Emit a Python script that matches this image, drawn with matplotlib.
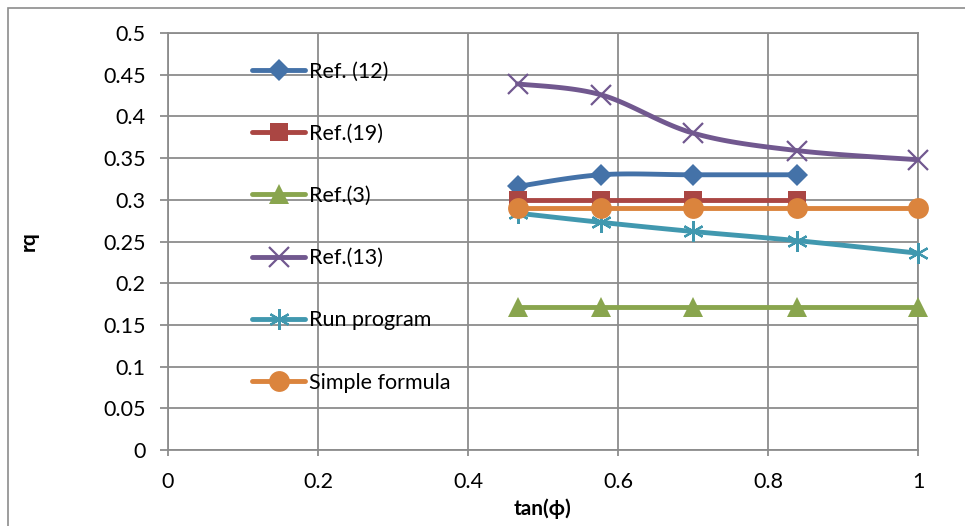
import numpy as np
import matplotlib.pyplot as plt
from matplotlib.lines import Line2D

plt.rcParams['font.family'] = ['Lato', 'DejaVu Sans']

# tan(phi) fuer phi = 25, 30, 35, 40, 45 Grad
x = [0.466, 0.577, 0.700, 0.839, 1.0]

ref12 = [0.316, 0.330, 0.330, 0.330]
ref19 = [0.300, 0.300, 0.300, 0.300]
ref3 = [0.171, 0.171, 0.171, 0.171, 0.171]
ref13 = [0.439, 0.426, 0.380, 0.359, 0.348]
run_prog = [0.284, 0.273, 0.262, 0.251, 0.236]
simple = [0.290, 0.290, 0.290, 0.290, 0.290]

labels = ["Ref. (12)", "Ref.(19)", "Ref.(3)", "Ref.(13)", "Run program", "Simple formula"]
colors = ["#4472A8", "#AA4643", "#89A54E", "#71588F", "#4198AF", "#DB843D"]
markers = ["D", "s", "^", "x", (6, 2, 0), "o"]
msizes = [11, 13, 15, 15, 15, 15]


def smooth(xs, ys, n=30):
    # Catmull-Rom wie Excel "geglaettete Linie"
    xs = np.asarray(xs, float)
    ys = np.asarray(ys, float)
    if len(xs) < 3:
        return xs, ys
    px = np.concatenate([[xs[0]], xs, [xs[-1]]])
    py = np.concatenate([[ys[0]], ys, [ys[-1]]])
    ox, oy = [], []
    t = np.linspace(0, 1, n)
    for i in range(1, len(px) - 2):
        p0, p1, p2, p3 = [np.array([px[j], py[j]]) for j in range(i - 1, i + 3)]
        c1 = p1 + (p2 - p0) / 6
        c2 = p2 - (p3 - p1) / 6
        b = ((1 - t) ** 3)[:, None] * p1 + (3 * (1 - t) ** 2 * t)[:, None] * c1 \
            + (3 * (1 - t) * t ** 2)[:, None] * c2 + (t ** 3)[:, None] * p2
        ox.extend(b[:, 0])
        oy.extend(b[:, 1])
    return np.array(ox), np.array(oy)


fig = plt.figure(figsize=(9.65, 5.26), dpi=100)
ax = fig.add_axes([168 / 965, 1 - 450 / 526, 750 / 965, 417 / 526])

# Rahmen um das Diagramm
fig.patches.append(plt.Rectangle((8 / 965, -0.1), 1.2, (526 - 8) / 526 + 0.1,
                                 transform=fig.transFigure, fill=False,
                                 edgecolor="#8c8c8c", linewidth=1.2))

series = [ref12, ref19, ref3, ref13, run_prog, simple]
handles = []
for i, ys in enumerate(series):
    xs = x[:len(ys)]
    sx, sy = smooth(xs, ys)
    ax.plot(sx, sy, color=colors[i], lw=3.5, solid_capstyle="round", zorder=3 + i, clip_on=False)
    mew = 1.6 if i in (3, 4) else 0
    ax.plot(xs, ys, linestyle="none", marker=markers[i], ms=msizes[i],
            color=colors[i], mew=mew, zorder=3 + i, clip_on=False)
    handles.append(Line2D([], [], color=colors[i], lw=3.5, marker=markers[i],
                          ms=msizes[i], mew=mew, solid_capstyle="round"))

ax.set_xlim(0, 1)
ax.set_ylim(0, 0.5)
ax.set_xticks(np.arange(0, 1.01, 0.2))
ax.set_xticklabels(["0", "0.2", "0.4", "0.6", "0.8", "1"])
ax.set_yticks(np.arange(0, 0.501, 0.05))
ax.set_yticklabels(["0", "0.05", "0.1", "0.15", "0.2", "0.25", "0.3", "0.35", "0.4", "0.45", "0.5"])
ax.grid(True, color="#8c8c8c", lw=1.3)
ax.set_axisbelow(True)
for s in ax.spines.values():
    s.set_color("#8c8c8c")
    s.set_linewidth(1.3)
ax.tick_params(direction="out", length=6, width=1.3, color="#8c8c8c", labelsize=15.5)
ax.tick_params(axis="x", length=4, pad=12)
ax.tick_params(axis="y", pad=10)

ax.set_xlabel("tan(ϕ)", fontsize=15, fontweight="bold")
ax.set_ylabel("rq", fontsize=15, fontweight="bold")
ax.xaxis.set_label_coords(0.5, -0.115)
ax.yaxis.set_label_coords(-0.173, 0.5)

ax.legend(handles, labels, loc="upper left", bbox_to_anchor=(0.1, 0.952), frameon=False,
          fontsize=15.5, handlelength=2.5, handletextpad=0.15, labelspacing=1.96,
          borderaxespad=0)

fig.savefig("out.png", dpi=100)
